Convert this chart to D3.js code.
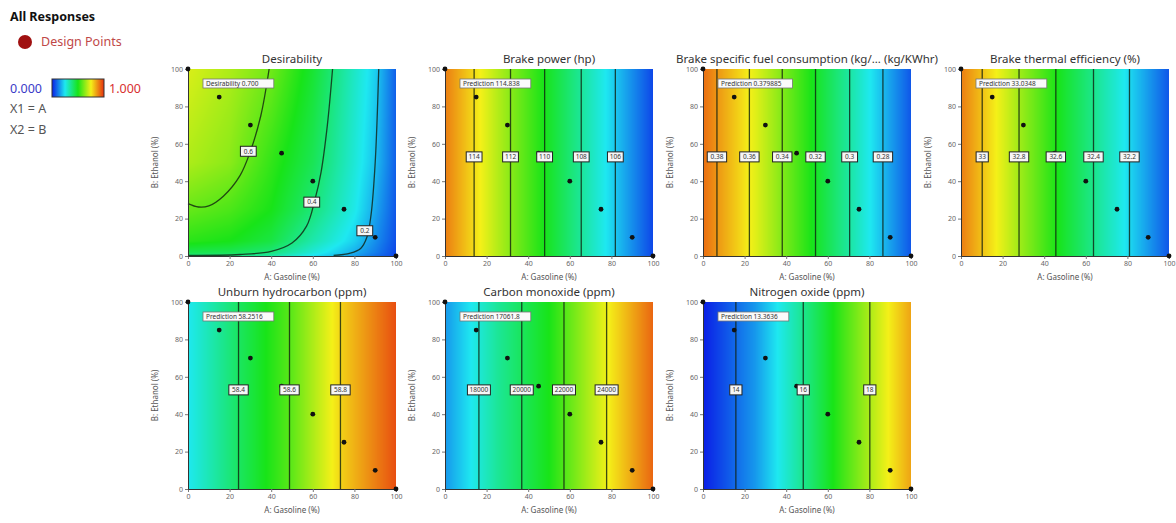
<!DOCTYPE html>
<html>
<head>
<meta charset="utf-8">
<script src="https://cdn.jsdelivr.net/npm/d3@7"></script>
<style>
  body { margin: 0; background: #fff; font-family: "Noto Sans", "Open Sans", sans-serif; }
</style>
</head>
<body>
<svg id="chart"></svg>
<script>
// design points of the mixture (A + B = 100)
const designA = [0, 15, 30, 45, 60, 75, 90, 100];
const designB = [100, 85, 70, 55, 40, 25, 10, 0];
const axisTicks = [0, 20, 40, 60, 80, 100];

const titles = ["Desirability", "Brake power (hp)", "Brake specific fuel consumption (kg/... (kg/KWhr)",
  "Brake thermal efficiency (%)", "Unburn hydrocarbon (ppm)", "Carbon monoxide (ppm)", "Nitrogen oxide (ppm)"];
const flags = ["Desirability 0.700", "Prediction 114.838", "Prediction 0.379885", "Prediction 33.0348",
  "Prediction 58.2516", "Prediction 17061.8", "Prediction 13.3636"];

// colour-bar position (0 = blue, 1 = red) read at these A values
const shadeA = [0, 25, 50, 75, 100];
const brakeShade = [0.9, 0.68, 0.48, 0.27, 0.05];
const bsfcShade = [0.92, 0.73, 0.52, 0.3, 0.07];
const bteShade = [0.9, 0.68, 0.47, 0.28, 0.07];
const uhcShade = [0.25, 0.42, 0.58, 0.8, 0.96];
const coShade = [0.15, 0.35, 0.5, 0.72, 0.93];
const noxShade = [0.0, 0.15, 0.38, 0.62, 0.85];

// desirability shade table: rows at desirB, columns at desirA
const desirA = [0, 20, 40, 60, 80, 90, 100];
const desirB = [0, 2, 8, 25, 50, 100];
const desirShade = [
  [0.38, 0.38, 0.34, 0.24, 0.16, 0.10, 0.05],
  [0.44, 0.43, 0.39, 0.28, 0.18, 0.12, 0.05],
  [0.52, 0.50, 0.45, 0.33, 0.22, 0.14, 0.06],
  [0.59, 0.56, 0.50, 0.39, 0.26, 0.17, 0.07],
  [0.67, 0.63, 0.53, 0.43, 0.28, 0.20, 0.08],
  [0.72, 0.67, 0.60, 0.47, 0.30, 0.22, 0.08]
];

// contour labels and the A value where each vertical contour sits
const brakeLevels = ["114", "112", "110", "108", "106"];
const brakeAt = [14.0, 31.5, 47.9, 65.5, 81.9];
const bsfcLevels = ["0.38", "0.36", "0.34", "0.32", "0.3", "0.28"];
const bsfcAt = [6.7, 22.3, 38.1, 54.1, 70.5, 86.5];
const bteLevels = ["33", "32.8", "32.6", "32.4", "32.2"];
const bteAt = [10.2, 27.9, 45.6, 63.7, 81.0];
const uhcLevels = ["58.4", "58.6", "58.8"];
const uhcAt = [24.3, 48.8, 73.3];
const coLevels = ["18000", "20000", "22000", "24000"];
const coAt = [16.3, 36.9, 57.2, 77.7];
const noxLevels = ["14", "16", "18"];
const noxAt = [15.8, 48.2, 80.2];

// desirability contours, traced as [A, B] points
const desirLevels = ["0.6", "0.4", "0.2"];
const desirCurve06 = [[0, 28], [5, 26.2], [10, 26.8], [17, 32], [25, 43], [30, 56], [35, 75], [39, 100]];
const desirCurve04 = [[0, 0.3], [25, 0.8], [40, 2.5], [50, 7], [57, 16], [61, 30], [64, 45], [67, 70], [69.5, 100]];
const desirCurve02 = [[70, 0.3], [78, 1.5], [83, 4], [86, 10], [88, 22], [90, 50], [91.7, 100]];
const desirLabelAt = [[29, 56], [59.5, 28.8], [85, 13.5]];

const cmapStops = [0, 0.25, 0.5, 0.75, 1];
const cmapColors = ["#0a1ee6", "#1ee8f0", "#18e418", "#f4f018", "#e6300f"];

const W = 1176, H = 523;
const cols = [188, 445, 703, 961];
const rowsY = [69, 302];
const pw = 208, ph = 187;

const svg = d3.select("#chart").attr("width", W).attr("height", H);
const cmap = d3.scaleLinear().domain(cmapStops).range(cmapColors).interpolate(d3.interpolateRgb).clamp(true);

function rowField(vals) {
  const s = d3.scaleLinear().domain(shadeA).range(vals).clamp(true);
  return (a, b) => s(a);
}
const desirRows = desirShade.map(r => d3.scaleLinear().domain(desirA).range(r).clamp(true));
function desirField(a, b) {
  const colVals = desirRows.map(s => s(a));
  return d3.scaleLinear().domain(desirB).range(colVals).clamp(true)(b);
}

const vLines = (levels, at) => levels.map((l, i) => ({ label: l, pts: [[at[i], 0], [at[i], 100]], lab: [at[i], 53] }));

const panels = [
  { field: desirField, contours: [desirCurve06, desirCurve04, desirCurve02].map((c, i) => ({ label: desirLevels[i], pts: c, lab: desirLabelAt[i] })) },
  { field: rowField(brakeShade), contours: vLines(brakeLevels, brakeAt) },
  { field: rowField(bsfcShade), contours: vLines(bsfcLevels, bsfcAt) },
  { field: rowField(bteShade), contours: vLines(bteLevels, bteAt) },
  { field: rowField(uhcShade), contours: vLines(uhcLevels, uhcAt) },
  { field: rowField(coShade), contours: vLines(coLevels, coAt) },
  { field: rowField(noxShade), contours: vLines(noxLevels, noxAt) }
];
const slots = [[0, 0], [1, 0], [2, 0], [3, 0], [0, 1], [1, 1], [2, 1]];

panels.forEach((p, i) => {
  const left = cols[slots[i][0]], top = rowsY[slots[i][1]];
  const x = d3.scaleLinear().domain([0, 100]).range([0, pw]);
  const y = d3.scaleLinear().domain([0, 100]).range([ph, 0]);
  const g = svg.append("g").attr("transform", `translate(${left},${top})`);

  // colour field drawn on a canvas, placed as an image
  const cv = document.createElement("canvas");
  cv.width = pw; cv.height = ph;
  const ctx = cv.getContext("2d");
  const img = ctx.createImageData(pw, ph);
  for (let py = 0; py < ph; py++) {
    for (let px = 0; px < pw; px++) {
      const c = d3.rgb(cmap(p.field(x.invert(px + 0.5), y.invert(py + 0.5))));
      const k = (py * pw + px) * 4;
      img.data[k] = c.r; img.data[k + 1] = c.g; img.data[k + 2] = c.b; img.data[k + 3] = 255;
    }
  }
  ctx.putImageData(img, 0, 0);
  g.append("image").attr("width", pw).attr("height", ph)
    .attr("preserveAspectRatio", "none").attr("href", cv.toDataURL());

  // contours
  const line = d3.line().x(d => x(d[0])).y(d => y(d[1])).curve(d3.curveCatmullRom);
  g.selectAll(".contour").data(p.contours).join("path")
    .attr("class", "contour")
    .attr("d", d => line(d.pts))
    .attr("fill", "none").attr("stroke", "#102010").attr("stroke-opacity", 0.8).attr("stroke-width", 1.3);

  // axes
  const xa = g.append("g").attr("transform", `translate(0,${ph})`)
    .call(d3.axisBottom(x).tickValues(axisTicks).tickSize(3).tickPadding(2));
  const ya = g.append("g")
    .call(d3.axisLeft(y).tickValues(axisTicks).tickSize(3).tickPadding(2));
  [xa, ya].forEach(a => {
    a.selectAll("text").attr("font-size", 7).attr("fill", "#666").attr("font-family", "Noto Sans, sans-serif");
    a.selectAll("line").attr("stroke", "#777");
    a.select(".domain").attr("stroke", "#333");
  });

  // design points
  g.selectAll(".dp").data(designA).join("circle")
    .attr("class", "dp")
    .attr("cx", d => x(d)).attr("cy", (d, j) => y(designB[j]))
    .attr("r", 2.4).attr("fill", "#111");

  // contour labels
  const labs = g.selectAll(".clab").data(p.contours).join("g").attr("class", "clab")
    .attr("transform", d => `translate(${x(d.lab[0])},${y(d.lab[1])})`);
  labs.append("rect")
    .attr("x", d => -(d.label.length * 3.6 + 5) / 2).attr("y", -5)
    .attr("width", d => d.label.length * 3.6 + 5).attr("height", 10)
    .attr("fill", "#f6f6f6").attr("stroke", "#222").attr("stroke-width", 1);
  labs.append("text").attr("text-anchor", "middle").attr("dy", "0.35em")
    .attr("font-size", 6.5).attr("fill", "#333").text(d => d.label);

  // prediction flag
  const fw = flags[i].length * 3.6 + 6;
  g.append("rect").attr("x", 15).attr("y", 10).attr("width", fw).attr("height", 9)
    .attr("fill", "#fafafa").attr("stroke", "#777").attr("stroke-width", 0.8);
  g.append("text").attr("x", 18).attr("y", 17).attr("font-size", 6.5).attr("fill", "#333").text(flags[i]);

  // titles and axis labels
  g.append("text").attr("x", pw / 2).attr("y", -6).attr("text-anchor", "middle")
    .attr("font-size", 11.5).attr("fill", "#333").text(titles[i]);
  g.append("text").attr("x", pw / 2).attr("y", ph + 24).attr("text-anchor", "middle")
    .attr("font-size", 8).attr("fill", "#555").text("A: Gasoline (%)");
  g.append("text").attr("transform", `translate(-30,${ph / 2}) rotate(-90)`).attr("text-anchor", "middle")
    .attr("font-size", 8).attr("fill", "#555").text("B: Ethanol (%)");
});

// legend block, top left
svg.append("text").attr("x", 10).attr("y", 21).attr("font-size", 12.5).attr("font-weight", "bold")
  .attr("fill", "#111").text("All Responses");
svg.append("circle").attr("cx", 25).attr("cy", 42).attr("r", 7).attr("fill", "#a01010");
svg.append("text").attr("x", 41).attr("y", 46).attr("font-size", 12.5).attr("fill", "#c04848").text("Design Points");

const lg = svg.append("defs").append("linearGradient").attr("id", "legendGrad");
lg.selectAll("stop").data(cmapStops).join("stop")
  .attr("offset", d => d * 100 + "%").attr("stop-color", (d, i) => cmapColors[i]);
svg.append("text").attr("x", 10).attr("y", 93).attr("font-size", 12.5).attr("fill", "#3a3ac8").text("0.000");
svg.append("rect").attr("x", 52).attr("y", 79).attr("width", 52).attr("height", 18)
  .attr("fill", "url(#legendGrad)").attr("stroke", "#333").attr("stroke-width", 1);
svg.append("text").attr("x", 109).attr("y", 93).attr("font-size", 12.5).attr("fill", "#d83030").text("1.000");
svg.append("text").attr("x", 10).attr("y", 113).attr("font-size", 12.5).attr("fill", "#555").text("X1 = A");
svg.append("text").attr("x", 10).attr("y", 134).attr("font-size", 12.5).attr("fill", "#555").text("X2 = B");
</script>
</body>
</html>
